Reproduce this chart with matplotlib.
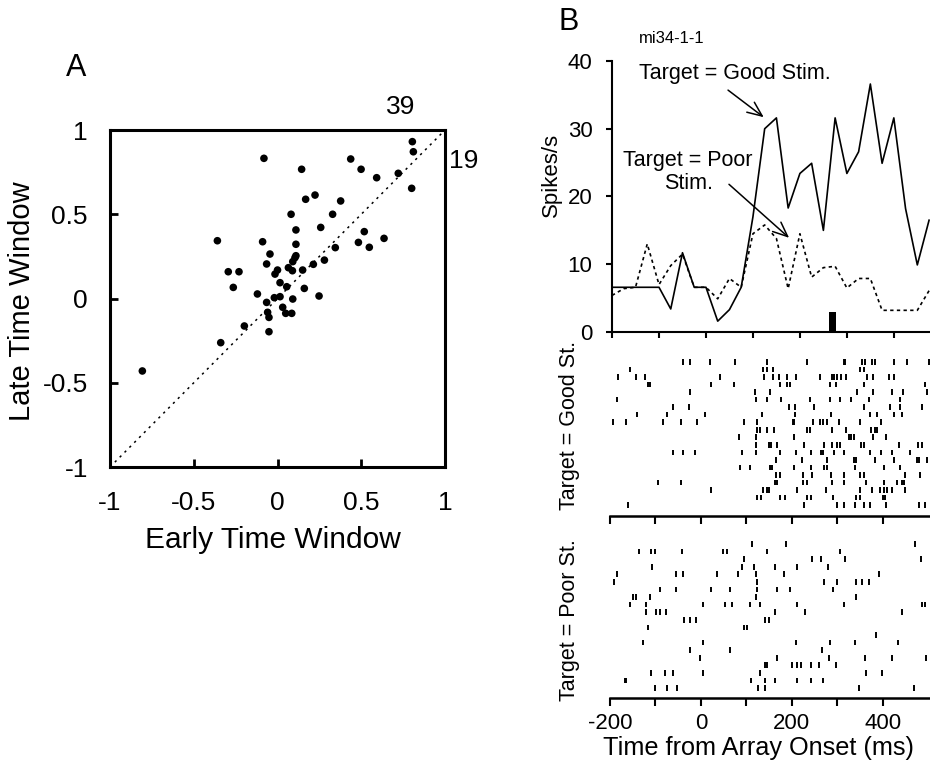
import matplotlib.pyplot as plt

plt.rcParams['font.family'] = ['Liberation Sans', 'DejaVu Sans']

# ---- panel A: early vs late window values (one dot per cell)
early = [0.805, 0.811, -0.081, 0.437, 0.144, 0.499, 0.592, 0.721, 0.801, 0.168,
         0.224, 0.377, 0.081, 0.329, 0.110, 0.258, -0.359, -0.089, 0.518, 0.483,
         0.548, 0.636, 0.110, 0.345, -0.045, 0.110, 0.104, 0.091, 0.280, -0.065,
         0.214, -0.294, -0.230, 0.000, -0.015, 0.065, 0.089, 0.150, -0.264, 0.015,
         0.055, 0.160, -0.120, -0.019, 0.015, 0.091, -0.065, 0.248, 0.031, -0.059,
         0.049, 0.085, -0.051, -0.198, -0.051, -0.339, -0.807]
late = [0.931, 0.871, 0.832, 0.828, 0.767, 0.767, 0.717, 0.743, 0.654, 0.589,
        0.614, 0.579, 0.500, 0.500, 0.407, 0.422, 0.343, 0.337, 0.397, 0.333,
        0.304, 0.357, 0.322, 0.302, 0.264, 0.254, 0.242, 0.219, 0.228, 0.205,
        0.203, 0.159, 0.159, 0.169, 0.145, 0.183, 0.165, 0.169, 0.066, 0.094,
        0.070, 0.060, 0.027, 0.005, 0.011, -0.003, -0.023, 0.015, -0.052, -0.082,
        -0.088, -0.088, -0.112, -0.163, -0.197, -0.262, -0.430]
n_above = '39'
n_below = '19'

# ---- panel B: spike density (25 ms bins)
bin_ms = [-200, -175, -150, -125, -100, -75, -50, -25, 0, 25, 50, 75, 100, 125,
          150, 175, 200, 225, 250, 275, 300, 325, 350, 375, 400, 425, 450, 475]
rate_good = [6.6, 6.6, 6.6, 6.6, 6.6, 3.4, 11.7, 6.6, 6.6, 1.6, 3.3, 6.6, 17.0, 30.0,
             31.6, 18.3, 23.4, 24.9, 15.0, 31.6, 23.4, 26.6, 36.6, 24.9, 31.6, 18.2, 9.9, 16.5]
rate_poor = [5.4, 6.4, 6.6, 13.0, 7.0, 9.8, 11.5, 6.6, 6.6, 4.9, 7.9, 6.6, 14.5, 15.8,
             13.8, 6.4, 14.5, 8.1, 9.5, 9.7, 6.5, 7.9, 7.9, 3.2, 3.2, 3.2, 3.2, 6.1]
sacc_ms = 270
sacc_h = 3

# spike times (ms), one list per trial, top row first
good_trials = [
    [-39, -25, 20, 75, 145, 234, 314, 317, 354, 361, 376, 383, 425, 454, 501],
    [-156, 136, 145, 158, 350, 358],
    [-182, -143, -123, 41, 138, 158, 171, 189, 209, 261, 288, 292, 299, 308, 319, 365, 378, 413, 424],
    [-117, -113, 22, 73, 173, 189, 196, 284, 297, 358, 493],
    [-24, 119, 152, 343, 378, 420, 444, 497],
    [-185, 121, 145, 176, 240, 284, 306, 330, 369, 437],
    [-61, -26, 194, 207, 248, 358, 415, 438, 487],
    [-141, -74, 9, 135, 207, 286, 372, 388, 424, 442],
    [-194, -165, -84, -44, -8, 95, 124, 202, 205, 246, 261, 268, 278, 303, 349, 396],
    [124, 129, 146, 160, 233, 240, 288, 319, 374, 383, 387],
    [84, 121, 204, 326, 330, 336, 378, 408],
    [121, 150, 154, 167, 226, 270, 288, 299, 306, 352, 359, 435, 477, 486],
    [-61, -39, -13, 91, 121, 173, 209, 242, 264, 268, 292, 314, 371, 396, 420, 459],
    [165, 222, 278, 337, 341, 383, 425, 475, 479, 497],
    [86, 108, 152, 157, 204, 242, 270, 277, 339, 402, 438],
    [165, 173, 224, 244, 286, 314, 349, 358, 449, 482],
    [-94, -44, 163, 168, 224, 234, 289, 314, 363, 402, 432, 442, 446],
    [22, 136, 145, 149, 211, 275, 349, 376, 394, 403, 409, 420, 449],
    [124, 132, 173, 185, 233, 242, 290, 341, 349, 400, 405],
    [-161, 226, 299, 314, 338, 359, 372, 408, 479, 493],
]
poor_trials = [
    [112, 187, 471],
    [-136, -110, -102, -42, 48, 57, 145, 305],
    [94, 244, 264, 317, 485],
    [-107, 91, 116, 163, 212, 279],
    [-185, -55, -40, 35, 81, 121, 182, 391],
    [-191, 124, 270, 299, 341, 354, 369],
    [-91, -55, 22, 63, 124, 168, 196, 290],
    [-149, -143, -112, 121, 341],
    [-156, -121, 4, 52, 68, 108, 130, 211, 315, 486, 493],
    [-121, -99, -91, -77, 162, 228, 443],
    [-37, -25, -11, 141, 149],
    [-116, 95, 101],
    [386],
    [-127, 4, 209, 283, 338, 433],
    [-24, 63, 266],
    [-3, 168, 282, 360, 421, 495],
    [141, 145, 201, 212, 220, 242, 259, 297],
    [-110, -80, -61, 5, 130, 363, 399],
    [-168, -165, 110, 141, 162, 211, 242, 268],
    [-101, -74, -53, 126, 141, 348, 468],
]

fig = plt.figure(figsize=(9.3, 7.68), dpi=100)

#%% panel A
axA = fig.add_axes([0.1183, 0.3919, 0.3602, 0.4388])
axA.plot([-1, 1], [-1, 1], color='k', lw=1.1, ls=(0, (1.5, 3)))
axA.scatter(early, late, s=30, color='k', edgecolors='none', zorder=3)
axA.set_xlim(-1, 1)
axA.set_ylim(-1, 1)
ticks = [-1, -0.5, 0, 0.5, 1]
labs = ['-1', '-0.5', '0', '0.5', '1']
axA.set_xticks(ticks, labs)
axA.set_yticks(ticks, labs)
for s in axA.spines.values():
    s.set_linewidth(2.2)
axA.tick_params(direction='in', length=6, width=2, labelsize=19)
axA.tick_params(axis='x', pad=17)
axA.tick_params(axis='y', pad=16)
axA.text(0.869, 1.068, n_above, transform=axA.transAxes, fontsize=19, ha='center', va='center')
axA.text(1.057, 0.908, n_below, transform=axA.transAxes, fontsize=19, ha='center', va='center')
fig.text(0.2935, 0.3151, 'Early Time Window', fontsize=21.5, ha='center', va='top')
fig.text(0.0237, 0.608, 'Late Time Window', fontsize=21, rotation=90, ha='center', va='center')
fig.text(0.0817, 0.9115, 'A', fontsize=22, ha='center', va='center')

#%% panel B, PSTH
axP = fig.add_axes([0.6581, 0.5677, 0.3419, 0.3529])
axP.plot(bin_ms, rate_good, color='k', lw=1.2)
axP.plot(bin_ms, rate_poor, color='k', lw=1.2, ls=(0, (2, 2)))
axP.bar(sacc_ms, sacc_h, width=15, color='k')
axP.set_xlim(-200, 477)
axP.set_ylim(0, 40)
axP.set_xticks(range(-200, 500, 100))
axP.set_xticklabels([])
axP.set_yticks([0, 10, 20, 30, 40])
axP.spines['top'].set_visible(False)
axP.spines['right'].set_visible(False)
for s in ['left', 'bottom']:
    axP.spines[s].set_linewidth(1.5)
axP.tick_params(direction='out', width=1.5, labelsize=16)
axP.tick_params(axis='y', length=4, pad=10)
axP.tick_params(axis='x', length=6)

axP.text(62, 38.1, 'Target = Good Stim.', fontsize=15.5, ha='center', va='center')
axP.annotate('', xy=(123, 31.7), xytext=(47, 35.7),
             arrowprops=dict(arrowstyle='->,head_length=0.7,head_width=0.3', color='k', lw=1.1,
                             mutation_scale=15, shrinkA=0, shrinkB=0))
axP.text(-38, 23.6, 'Target = Poor\nStim.', fontsize=15.5, ha='center', va='center', linespacing=1.15)
axP.annotate('', xy=(177, 13.9), xytext=(49, 21.8),
             arrowprops=dict(arrowstyle='->,head_length=0.7,head_width=0.3', color='k', lw=1.1,
                             mutation_scale=15, shrinkA=0, shrinkB=0))

fig.text(0.6118, 0.9714, 'B', fontsize=22, ha='center', va='center')
fig.text(0.7226, 0.9505, 'mi34-1-1', fontsize=12, ha='center', va='center')
fig.text(0.5935, 0.7721, 'Spikes/s', fontsize=16, rotation=90, ha='center', va='center')

#%% rasters
def raster(ax, trials, ylo, yhi):
    n = len(trials)
    for i, tr in enumerate(trials):
        y = n - i
        ax.vlines(tr, y - 0.37, y + 0.37, color='k', lw=1.4)
    ax.set_xlim(-200, 504)
    ax.set_ylim(ylo, yhi)
    ax.set_yticks([])
    ax.set_xticks(range(-200, 500, 100))
    for s in ['top', 'right', 'left']:
        ax.spines[s].set_visible(False)
    ax.spines['bottom'].set_linewidth(1.8)
    ax.tick_params(axis='x', direction='out', length=6, width=1.5, labelsize=16, pad=5)

axG = fig.add_axes([0.6559, 0.3281, 0.3441, 0.2318])
raster(axG, good_trials, -0.46, 23.19)
axG.set_xticklabels([])

axQ = fig.add_axes([0.6559, 0.0911, 0.3441, 0.2253])
raster(axQ, poor_trials, -0.32, 22.5)
axQ.set_xticklabels(['-200', '', '0', '', '200', '', '400'])

fig.text(0.6129, 0.4466, 'Target = Good St.', fontsize=15.5, rotation=90, ha='center', va='center')
fig.text(0.6129, 0.1927, 'Target = Poor St.', fontsize=15.5, rotation=90, ha='center', va='center')
fig.text(0.816, 0.026, 'Time from Array Onset (ms)', fontsize=18.2, ha='center', va='center')

fig.savefig('out.png', dpi=100)
